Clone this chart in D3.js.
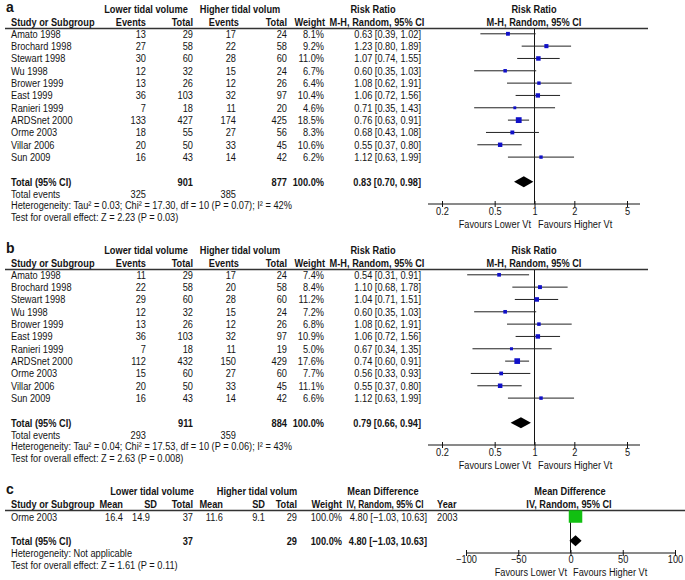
<!DOCTYPE html>
<html><head><meta charset="utf-8">
<script src="https://cdn.jsdelivr.net/npm/d3@7"></script>
<style>
body{margin:0;background:#fff}
svg text{font-family:"Liberation Sans",Arial,sans-serif;fill:#141414}
</style>
</head><body>
<svg id="chart" width="685" height="580"></svg>
<script>
// ---------- DATA ----------
const studies = ["Amato 1998","Brochard 1998","Stewart 1998","Wu 1998","Brower 1999","East 1999","Ranieri 1999","ARDSnet 2000","Orme 2003","Villar 2006","Sun 2009"];

const aLowEvents  = [13,27,30,12,13,36,7,133,18,20,16];
const aLowTotal   = [29,58,60,32,26,103,18,427,55,50,43];
const aHighEvents = [17,22,28,15,12,32,11,174,27,33,14];
const aHighTotal  = [24,58,60,24,26,97,20,425,56,45,42];
const aWeight     = [8.1,9.2,11.0,6.7,6.4,10.4,4.6,18.5,8.3,10.6,6.2];
const aRR         = [0.63,1.23,1.07,0.60,1.08,1.06,0.71,0.76,0.68,0.55,1.12];
const aLo         = [0.39,0.80,0.74,0.35,0.62,0.72,0.35,0.63,0.43,0.37,0.63];
const aHi         = [1.02,1.89,1.55,1.03,1.91,1.56,1.43,0.91,1.08,0.80,1.99];
const aTotals     = [901,877];
const aTotalEvents= [325,385];
const aPooled     = [0.83,0.70,0.98];
const aHetero     = "Heterogeneity: Tau\u00b2 = 0.03; Chi\u00b2 = 17.30, df = 10 (P = 0.07); I\u00b2 = 42%";
const aTest       = "Test for overall effect: Z = 2.23 (P = 0.03)";

const bLowEvents  = [11,22,29,12,13,36,7,112,15,20,16];
const bLowTotal   = [29,58,60,32,26,103,18,432,60,50,43];
const bHighEvents = [17,20,28,15,12,32,11,150,27,33,14];
const bHighTotal  = [24,58,60,24,26,97,19,429,60,45,42];
const bWeight     = [7.4,8.4,11.2,7.2,6.8,10.9,5.0,17.6,7.7,11.1,6.6];
const bRR         = [0.54,1.10,1.04,0.60,1.08,1.06,0.67,0.74,0.56,0.55,1.12];
const bLo         = [0.31,0.68,0.71,0.35,0.62,0.72,0.34,0.60,0.33,0.37,0.63];
const bHi         = [0.91,1.78,1.51,1.03,1.91,1.56,1.35,0.91,0.93,0.80,1.99];
const bTotals     = [911,884];
const bTotalEvents= [293,359];
const bPooled     = [0.79,0.66,0.94];
const bHetero     = "Heterogeneity: Tau\u00b2 = 0.04; Chi\u00b2 = 17.53, df = 10 (P = 0.06); I\u00b2 = 43%";
const bTest       = "Test for overall effect: Z = 2.63 (P = 0.008)";

const cStudies    = ["Orme 2003"];
const cLowMean    = [16.4];
const cLowSD      = [14.9];
const cLowN       = [37];
const cHighMean   = [11.6];
const cHighSD     = [9.1];
const cHighN      = [29];
const cWeight     = [100.0];
const cMD         = [4.80];
const cLo         = [-1.03];
const cHi         = [10.63];
const cYear       = [2003];
const cTotals     = [37,29];
const cPooled     = [4.80,-1.03,10.63];
const cHetero     = "Heterogeneity: Not applicable";
const cTest       = "Test for overall effect: Z = 1.61 (P = 0.11)";

const rrTicks = [0.2,0.5,1,2,5];
const mdTicks = [-100,-50,0,50,100];
const favours = ["Favours Lower Vt","Favours Higher Vt"];

// ---------- DRAWING ----------
const svg = d3.select("#chart");
const FS = 11, SX = 0.84;
const f2 = d3.format(".2f"), f1 = d3.format(".1f");
const ciText = (m,l,h) => `${f2(m)} [${f2(l)}, ${f2(h)}]`;
const INK = "#141414";

function T(g, x, y, s, o = {}) {
  return g.append("text")
    .attr("transform", `translate(${x},${y}) scale(${o.sx || SX},1)`)
    .attr("text-anchor", o.a || "start")
    .attr("font-size", o.fs || FS)
    .attr("font-weight", o.b ? "bold" : "normal")
    .text(s);
}
const sq = w => 1.35 * Math.sqrt(w);

function diamond(g, x, y, m, l, h, hh) {
  const p = d3.path();
  p.moveTo(x(l), y); p.lineTo(x(m), y - hh); p.lineTo(x(h), y); p.lineTo(x(m), y + hh); p.closePath();
  g.append("path").attr("d", p.toString()).attr("fill", "#000");
}

function styleAxis(ax, ty) {
  ax.select(".domain").remove();
  ax.selectAll(".tick line").attr("stroke", INK);
  ax.selectAll(".tick text").attr("font-size", FS).attr("y", ty).attr("dy", "0.71em")
    .attr("transform", `scale(${SX},1)`).attr("font-family", null).attr("fill", "#222");
}

function drawRR(y0, label, d) {
  const g = svg.append("g");
  const x = d3.scaleLog().domain([0.2, 5]).range([442, 627]);
  const y = d3.scaleLinear().domain([0, 1]).range([y0 + 33.8, y0 + 46.13]);
  const n = studies.length;
  const yTot = y(n + 1), yEv = y(n + 2), yHet = yEv + 11, yTest = yHet + 11.5;
  const axisY = y0 + 204;

  // headers
  T(g, 6, y0 + 12, label, { b: true, fs: 14, sx: 1 });
  const gy = y0 + 13;
  T(g, 146, gy, "Lower tidal volume", { a: "middle", b: true });
  T(g, 240, gy, "Higher tidal volum", { a: "middle", b: true });
  T(g, 373, gy, "Risk Ratio", { a: "middle", b: true });
  T(g, 534, gy, "Risk Ratio", { a: "middle", b: true });
  const hy = y0 + 26;
  T(g, 11, hy, "Study or Subgroup", { b: true });
  T(g, 146, hy, "Events", { a: "end", b: true });
  T(g, 193, hy, "Total", { a: "end", b: true });
  T(g, 239, hy, "Events", { a: "end", b: true });
  T(g, 287, hy, "Total", { a: "end", b: true });
  T(g, 325, hy, "Weight", { a: "end", b: true });
  T(g, 377, hy, "M-H, Random, 95% CI", { a: "middle", b: true });
  T(g, 534, hy, "M-H, Random, 95% CI", { a: "middle", b: true });
  g.append("line").attr("x1", 5).attr("x2", 648).attr("y1", y0 + 28.5).attr("y2", y0 + 28.5)
    .attr("stroke", "#333").attr("stroke-width", 1.3);

  // null line
  g.append("line").attr("x1", x(1)).attr("x2", x(1)).attr("y1", y0 + 29).attr("y2", axisY)
    .attr("stroke", INK).attr("stroke-width", 1);

  // rows
  studies.forEach((s, i) => {
    const yy = y(i), by = yy + 4;
    T(g, 11, by, s);
    T(g, 146, by, d.le[i], { a: "end" });
    T(g, 193, by, d.lt[i], { a: "end" });
    T(g, 236, by, d.he[i], { a: "end" });
    T(g, 287, by, d.ht[i], { a: "end" });
    T(g, 324, by, f1(d.w[i]) + "%", { a: "end" });
    T(g, 421, by, ciText(d.rr[i], d.lo[i], d.hi[i]), { a: "end" });
    g.append("line").attr("x1", x(d.lo[i])).attr("x2", x(d.hi[i])).attr("y1", yy).attr("y2", yy)
      .attr("stroke", "#222").attr("stroke-width", 1);
    const s2 = sq(d.w[i]);
    g.append("rect").attr("x", x(d.rr[i]) - s2 / 2).attr("y", yy - s2 / 2)
      .attr("width", s2).attr("height", s2).attr("fill", "#1010c8");
  });

  // totals
  T(g, 11, yTot + 4, "Total (95% CI)", { b: true });
  T(g, 193, yTot + 4, d.tot[0], { a: "end", b: true });
  T(g, 287, yTot + 4, d.tot[1], { a: "end", b: true });
  T(g, 324, yTot + 4, "100.0%", { a: "end", b: true });
  T(g, 421, yTot + 4, ciText(...d.pool), { a: "end", b: true });
  diamond(g, x, yTot, d.pool[0], d.pool[1], d.pool[2], 5.5);
  T(g, 11, yEv + 4, "Total events");
  T(g, 146, yEv + 4, d.tev[0], { a: "end" });
  T(g, 236, yEv + 4, d.tev[1], { a: "end" });
  T(g, 11, yHet + 4, d.het);
  T(g, 11, yTest + 4, d.test);

  // axis
  g.append("line").attr("x1", x.range()[0] - 14).attr("x2", x.range()[1] + 13)
    .attr("y1", axisY).attr("y2", axisY).attr("stroke", INK).attr("stroke-width", 1);
  const ax = g.append("g").attr("transform", `translate(0,${axisY - 3})`)
    .call(d3.axisBottom(x).tickValues(rrTicks).tickSize(6).tickFormat(d3.format("")));
  styleAxis(ax, 6);
  T(g, 531, axisY + 24, favours[0], { a: "end" });
  T(g, 538, axisY + 24, favours[1]);
}

drawRR(0, "a", { le: aLowEvents, lt: aLowTotal, he: aHighEvents, ht: aHighTotal, w: aWeight,
  rr: aRR, lo: aLo, hi: aHi, tot: aTotals, tev: aTotalEvents, pool: aPooled, het: aHetero, test: aTest });
drawRR(241, "b", { le: bLowEvents, lt: bLowTotal, he: bHighEvents, ht: bHighTotal, w: bWeight,
  rr: bRR, lo: bLo, hi: bHi, tot: bTotals, tev: bTotalEvents, pool: bPooled, het: bHetero, test: bTest });

// ---------- panel c ----------
(function () {
  const y0 = 482;
  const g = svg.append("g");
  const x = d3.scaleLinear().domain([-100, 100]).range([466, 675]);
  const y = d3.scaleLinear().domain([0, 1]).range([y0 + 35, y0 + 47.33]);
  const axisY = y0 + 71;
  T(g, 6, y0 + 12, "c", { b: true, fs: 14, sx: 1 });
  const gy = y0 + 13;
  T(g, 152, gy, "Lower tidal volume", { a: "middle", b: true });
  T(g, 257, gy, "Higher tidal volum", { a: "middle", b: true });
  T(g, 383, gy, "Mean Difference", { a: "middle", b: true });
  T(g, 570, gy, "Mean Difference", { a: "middle", b: true });
  const hy = y0 + 26;
  T(g, 11, hy, "Study or Subgroup", { b: true });
  T(g, 123, hy, "Mean", { a: "end", b: true });
  T(g, 157, hy, "SD", { a: "end", b: true });
  T(g, 193, hy, "Total", { a: "end", b: true });
  T(g, 223, hy, "Mean", { a: "end", b: true });
  T(g, 265, hy, "SD", { a: "end", b: true });
  T(g, 297, hy, "Total", { a: "end", b: true });
  T(g, 342, hy, "Weight", { a: "end", b: true });
  T(g, 385, hy, "IV, Random, 95% CI", { a: "middle", b: true, sx: 0.76 });
  T(g, 437, hy, "Year", { b: true });
  T(g, 569, hy, "IV, Random, 95% CI", { a: "middle", b: true });
  g.append("line").attr("x1", 5).attr("x2", 685).attr("y1", y0 + 28.5).attr("y2", y0 + 28.5)
    .attr("stroke", "#333").attr("stroke-width", 1.3);
  g.append("line").attr("x1", x(0)).attr("x2", x(0)).attr("y1", y0 + 29).attr("y2", axisY)
    .attr("stroke", INK).attr("stroke-width", 1);

  cStudies.forEach((s, i) => {
    const yy = y(i), by = yy + 4;
    T(g, 11, by, s);
    T(g, 123, by, f1(cLowMean[i]), { a: "end" });
    T(g, 150, by, f1(cLowSD[i]), { a: "end" });
    T(g, 193, by, cLowN[i], { a: "end" });
    T(g, 223, by, f1(cHighMean[i]), { a: "end" });
    T(g, 265, by, f1(cHighSD[i]), { a: "end" });
    T(g, 297, by, cHighN[i], { a: "end" });
    T(g, 342, by, f1(cWeight[i]) + "%", { a: "end" });
    T(g, 427, by, ciText(cMD[i], cLo[i], cHi[i]), { a: "end" });
    T(g, 437, by, cYear[i]);
    g.append("line").attr("x1", x(cLo[i])).attr("x2", x(cHi[i])).attr("y1", yy).attr("y2", yy)
      .attr("stroke", "#222");
    const s2 = sq(cWeight[i]);
    g.append("rect").attr("x", x(cMD[i]) - s2 / 2).attr("y", yy - s2 / 2)
      .attr("width", s2).attr("height", s2 - 1).attr("fill", "#11c011");
  });

  const yTot = y(2) - 1, yHet = yTot + 12, yTest = yHet + 12;
  T(g, 11, yTot + 4, "Total (95% CI)", { b: true });
  T(g, 193, yTot + 4, cTotals[0], { a: "end", b: true });
  T(g, 297, yTot + 4, cTotals[1], { a: "end", b: true });
  T(g, 342, yTot + 4, "100.0%", { a: "end", b: true });
  T(g, 427, yTot + 4, ciText(...cPooled), { a: "end", b: true });
  diamond(g, x, yTot, cPooled[0], cPooled[1], cPooled[2], 5.5);
  T(g, 11, yHet + 4, cHetero);
  T(g, 11, yTest + 4, cTest);

  g.append("line").attr("x1", x.range()[0]).attr("x2", x.range()[1])
    .attr("y1", axisY).attr("y2", axisY).attr("stroke", INK);
  const ax = g.append("g").attr("transform", `translate(0,${axisY - 3})`)
    .call(d3.axisBottom(x).tickValues(mdTicks).tickSize(6).tickFormat(d3.format("")));
  styleAxis(ax, 5);
  T(g, 567, axisY + 23, favours[0], { a: "end" });
  T(g, 573, axisY + 23, favours[1]);
})();
</script>
</body></html>
